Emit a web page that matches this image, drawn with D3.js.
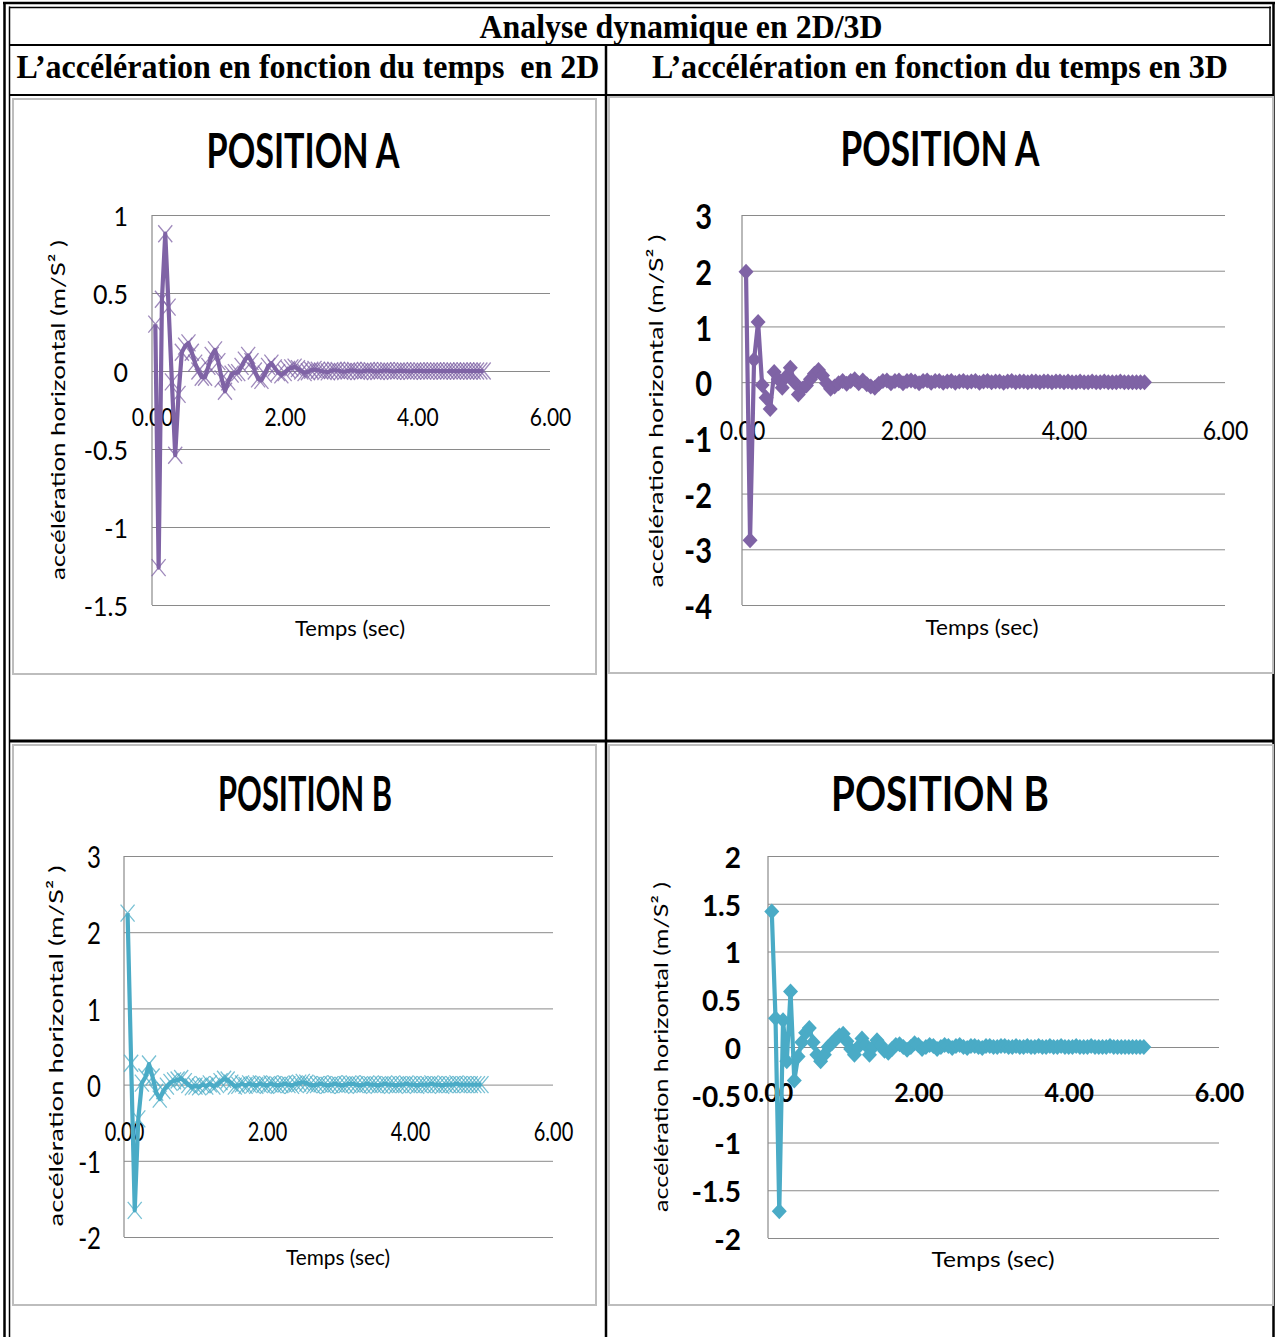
<!DOCTYPE html>
<html>
<head>
<meta charset="utf-8">
<script src="https://cdn.jsdelivr.net/npm/d3@7"></script>
<style>
  body { margin: 0; background: #fff; }
  svg { display: block; }
  text { white-space: pre; }
</style>
</head>
<body>
<script>
// Sampling interval of the recorded acceleration (seconds); sample i is at (i + 1) * timeStep
const timeStep = 0.05;

// Horizontal acceleration (m/s²), position A, 2D model
const posA2D = [
  0.30, -1.26, 0.46, 0.88, 0.41, -0.07, -0.54, -0.15, 0.12, 0.16,
  0.18, 0.12, 0.05, 0.00, -0.04, -0.04, 0.03, 0.10, 0.135, 0.06,
  -0.05, -0.13, -0.07, -0.02, -0.01, -0.01, 0.03, 0.07, 0.10, 0.06,
  0.00, -0.05, -0.06, -0.02, 0.03, 0.05, 0.02, -0.01, -0.025, -0.01,
  0.01, 0.02, 0.025, 0.015, 0.00, -0.01, -0.005, 0.005, 0.01, 0.005,
  0.000, -0.004, -0.006, 0.002, 0.005, 0.003, -0.002, -0.004, 0.000, 0.004,
  0.003, -0.002, -0.003, 0.001, 0.003, 0.002, -0.002, -0.003, 0.000, 0.002,
  0.002, -0.001, -0.002, 0.000, 0.002, 0.001, -0.001, -0.002, 0.000, 0.001,
  0.001, -0.001, -0.001, 0.000, 0.001, 0.001, -0.001, -0.001, 0.000, 0.001,
  0.000, -0.001, 0.000, 0.001, 0.000, -0.001, 0.000, 0.000, 0.000, 0.000
];

// Horizontal acceleration (m/s²), position A, 3D model
const posA3D = [
  1.98, -2.84, 0.40, 1.08, -0.05, -0.28, -0.48, 0.18, 0.05, -0.10,
  0.10, 0.26, 0.00, -0.22, -0.12, -0.06, 0.05, 0.15, 0.22, 0.12,
  -0.02, -0.12, -0.08, -0.02, 0.02, -0.03, 0.02, 0.05, -0.02, 0.03,
  -0.04, -0.08, -0.10, -0.03, 0.02, 0.03, -0.02, 0.02, 0.03, -0.02,
  0.02, 0.03, 0.01, -0.02, 0.02, 0.03, -0.01, 0.02, 0.02, -0.01,
  0.01, 0.02, -0.01, 0.01, 0.02, 0.00, 0.01, 0.02, -0.01, 0.01,
  0.02, 0.00, 0.01, 0.01, -0.01, 0.01, 0.02, 0.00, 0.01, 0.01,
  0.00, 0.01, 0.01, 0.00, 0.01, 0.01, 0.00, 0.01, 0.01, 0.00,
  0.01, 0.00, 0.00, 0.01, 0.00, 0.00, 0.01, 0.00, 0.00, 0.01,
  0.00, 0.00, 0.00, 0.01, 0.00, 0.00, 0.00, 0.00, 0.00, 0.00
];

// Horizontal acceleration (m/s²), position B, 2D model
const posB2D = [
  2.25, 0.28, -1.65, -0.45, 0.02, 0.10, 0.27, 0.10, -0.10, -0.19,
  -0.08, -0.02, 0.03, 0.05, 0.06, 0.08, 0.04, 0.00, -0.03, -0.02,
  -0.03, 0.00, -0.02, 0.01, -0.02, 0.00, 0.04, 0.07, 0.06, 0.02,
  -0.02, -0.01, 0.01, -0.01, 0.01, 0.00, -0.01, 0.01, 0.00, -0.01,
  0.01, 0.00, -0.01, 0.00, 0.01, 0.00, -0.01, 0.01, 0.02, 0.03,
  0.02, 0.00, -0.01, 0.00, 0.01, 0.00, -0.01, 0.00, 0.01, 0.00,
  -0.01, 0.00, 0.01, 0.01, 0.00, -0.01, 0.00, 0.01, 0.00, 0.00,
  -0.01, 0.00, 0.01, 0.00, 0.00, -0.01, 0.00, 0.00, 0.01, 0.00,
  0.00, -0.01, 0.00, 0.00, 0.00, 0.01, 0.00, 0.00, -0.01, 0.00,
  0.00, 0.00, 0.01, 0.00, 0.00, 0.00, 0.00, 0.00, 0.00, 0.00
];

// Horizontal acceleration (m/s²), position B, 3D model
const posB3D = [
  1.42, 0.30, -1.72, 0.28, -0.15, 0.58, -0.35, -0.10, 0.05, 0.15,
  0.20, 0.05, -0.08, -0.15, -0.08, 0.00, 0.04, 0.08, 0.12, 0.14,
  0.06, -0.02, -0.08, 0.00, 0.09, 0.02, -0.08, 0.00, 0.07, 0.02,
  -0.04, -0.06, -0.02, 0.02, 0.03, 0.00, -0.03, 0.00, 0.04, 0.02,
  -0.02, 0.00, 0.02, 0.01, -0.02, 0.00, 0.02, 0.01, -0.01, 0.01,
  0.02, 0.00, -0.01, 0.01, 0.01, 0.00, -0.01, 0.01, 0.01, 0.00,
  0.00, 0.01, 0.01, 0.00, 0.00, 0.01, 0.00, 0.00, 0.01, 0.00,
  0.00, 0.01, 0.00, 0.00, 0.01, 0.00, 0.00, 0.01, 0.00, 0.00,
  0.00, 0.01, 0.00, 0.00, 0.00, 0.01, 0.00, 0.00, 0.00, 0.00,
  0.01, 0.00, 0.00, 0.00, 0.00, 0.00, 0.00, 0.00, 0.00, 0.00
];

// Axis ticks
const xTickValues = [0, 2, 4, 6];
const xTickLabels = ["0.00", "2.00", "4.00", "6.00"];
const yTicksA2D = [-1.5, -1, -0.5, 0, 0.5, 1];
const yTicksA3D = [-4, -3, -2, -1, 0, 1, 2, 3];
const yTicksB2D = [-2, -1, 0, 1, 2, 3];
const yTicksB3D = [-2, -1.5, -1, -0.5, 0, 0.5, 1, 1.5, 2];

// Texts
const tableTitle = "Analyse dynamique en 2D/3D";
const colHeaders = ["L’accélération en fonction du temps  en 2D", "L’accélération en fonction du temps en 3D"];
const chartTitles = ["POSITION A", "POSITION B"];
const yAxisTitle = "accélération horizontal (m/S² )";
const xAxisTitle = "Temps (sec)";

const W = 1275, H = 1337;
const PURPLE = "#7f63a5", AQUA = "#4aabc6";
const SANS = "Lato, 'Open Sans', sans-serif";
const SERIF = "'Liberation Serif', 'DejaVu Serif', serif";

const svg = d3.select("body").append("svg").attr("width", W).attr("height", H);

// ---------- table frame ----------
const frame = svg.append("g").attr("stroke", "#000").attr("fill", "none");
function hline(y, x1, x2, w) { frame.append("line").attr("x1", x1).attr("x2", x2).attr("y1", y).attr("y2", y).attr("stroke-width", w); }
function vline(x, y1, y2, w) { frame.append("line").attr("x1", x).attr("x2", x).attr("y1", y1).attr("y2", y2).attr("stroke-width", w); }
// double outer border
vline(4.5, 2, H, 2.5);
vline(9.5, 6.5, H, 1.5);
hline(3, 3, 1275, 2.5);
hline(7.5, 9, 1271, 1.5);
vline(1273.5, 2, H, 2.5);
vline(1270, 6.5, 45, 1.5);
// row / column rules
hline(45, 9, 1271, 2);
hline(95, 9, 1274, 2);
vline(606, 45, H, 2.5);
hline(741, 9, 1274, 3);

function headerText(x, y, txt, len) {
  svg.append("text").attr("x", x).attr("y", y)
    .attr("text-anchor", "middle")
    .attr("font-family", SERIF).attr("font-weight", 700).attr("font-size", 34)
    .attr("textLength", len).attr("lengthAdjust", "spacingAndGlyphs")
    .text(txt);
}
headerText(681, 38, tableTitle, 403);
headerText(308, 78, colHeaders[0], 583);
headerText(940, 78, colHeaders[1], 576);

// ---------- charts ----------
const charts = [
  { data: posA2D, color: PURPLE, marker: "cross", title: chartTitles[0],
    box: [13, 99, 596, 674], plot: { x0: 152, x1: 550, y0: 215, y1: 605 },
    yDomain: [-1.5, 1], yTicks: yTicksA2D,
    titleCfg: { x: 303, y: 168, w: 193, size: 48 },
    yTitleCfg: { x: 57, y: 410, len: 340, size: 20 },
    xTitleCfg: { x: 350, y: 636, w: 110, size: 22 },
    xLab: { y: 416, size: 21, sy: 1.2, weight: 400 },
    yLab: { right: 128, size: 25, sy: 1.1, weight: 400 } },
  { data: posA3D, color: PURPLE, marker: "diamond", title: chartTitles[0],
    box: [609, 97, 1273, 673], plot: { x0: 742, x1: 1225, y0: 215, y1: 605 },
    yDomain: [-4, 3], yTicks: yTicksA3D,
    titleCfg: { x: 940, y: 166, w: 199, size: 48 },
    yTitleCfg: { x: 655, y: 411, len: 353, size: 20 },
    xTitleCfg: { x: 982, y: 635, w: 113, size: 22 },
    xLab: { y: 430, size: 23, sy: 1.15, weight: 400 },
    yLab: { right: 712, size: 29, sy: 1.2, weight: 700 } },
  { data: posB2D, color: AQUA, marker: "cross", title: chartTitles[1],
    box: [13, 745, 596, 1305], plot: { x0: 124, x1: 553, y0: 856, y1: 1237 },
    yDomain: [-2, 3], yTicks: yTicksB2D,
    titleCfg: { x: 305, y: 811, w: 174, size: 47 },
    yTitleCfg: { x: 55, y: 1046, len: 361, size: 20 },
    xTitleCfg: { x: 338, y: 1265, w: 104, size: 22 },
    xLab: { y: 1131, size: 20, sy: 1.35, weight: 400 },
    yLab: { right: 101, size: 24, sy: 1.3, weight: 400 } },
  { data: posB3D, color: AQUA, marker: "diamond", title: chartTitles[1],
    box: [609, 745, 1273, 1305], plot: { x0: 768, x1: 1219, y0: 856, y1: 1238 },
    yDomain: [-2, 2], yTicks: yTicksB3D,
    titleCfg: { x: 940, y: 811, w: 218, size: 47 },
    yTitleCfg: { x: 660, y: 1047, len: 330, size: 20 },
    xTitleCfg: { x: 993, y: 1267, w: 123, size: 22 },
    xLab: { y: 1092, size: 25, sy: 1.1, weight: 700 },
    yLab: { right: 741, size: 28, sy: 1.05, weight: 700 } }
];

const crossPath = "M-7,-8.5L7,8.5M-7,8.5L7,-8.5";
const diamondPath = "M0,-8L7.5,0L0,8L-7.5,0Z";

function drawChart(c) {
  const g = svg.append("g");
  const [bx0, by0, bx1, by1] = c.box;
  g.append("rect").attr("x", bx0).attr("y", by0)
    .attr("width", bx1 - bx0).attr("height", by1 - by0)
    .attr("fill", "#fff").attr("stroke", "#bdbdbd").attr("stroke-width", 2);

  const x = d3.scaleLinear().domain([0, 6]).range([c.plot.x0, c.plot.x1]);
  const y = d3.scaleLinear().domain(c.yDomain).range([c.plot.y1, c.plot.y0]);

  // horizontal gridlines
  const grid = g.append("g").attr("transform", `translate(${c.plot.x0},0)`)
    .call(d3.axisLeft(y).tickValues(c.yTicks).tickSize(-(c.plot.x1 - c.plot.x0)).tickFormat(""));
  grid.select(".domain").remove();
  grid.selectAll(".tick line").attr("stroke", "#8a8a8a").attr("stroke-width", 1);

  // vertical axis line
  g.append("line").attr("x1", c.plot.x0).attr("x2", c.plot.x0)
    .attr("y1", c.plot.y0).attr("y2", c.plot.y1)
    .attr("stroke", "#8a8a8a").attr("stroke-width", 1.2);

  // y tick labels
  const yAx = g.append("g").attr("transform", `translate(${c.yLab.right},0)`)
    .call(d3.axisLeft(y).tickValues(c.yTicks).tickSize(0).tickPadding(0).tickFormat(d => String(d)));
  yAx.select(".domain").remove();
  yAx.selectAll("text")
    .attr("x", 0).attr("dy", null)
    .attr("dominant-baseline", "central")
    .attr("transform", `scale(1,${c.yLab.sy})`)
    .attr("font-family", SANS).attr("font-size", c.yLab.size).attr("font-weight", c.yLab.weight)
    .attr("fill", "#000");

  // x tick labels, hung below the zero line
  const xAx = g.append("g").attr("transform", `translate(0,${c.xLab.y})`)
    .call(d3.axisBottom(x).tickValues(xTickValues).tickSize(0).tickPadding(0)
      .tickFormat((d, i) => xTickLabels[i]));
  xAx.select(".domain").remove();
  xAx.selectAll("text")
    .attr("y", 0).attr("dy", null)
    .attr("dominant-baseline", "central")
    .attr("transform", `scale(1,${c.xLab.sy})`)
    .attr("font-family", SANS).attr("font-size", c.xLab.size).attr("font-weight", c.xLab.weight)
    .attr("fill", "#000");

  // chart title
  g.append("text").attr("x", c.titleCfg.x).attr("y", c.titleCfg.y)
    .attr("text-anchor", "middle")
    .attr("font-family", SANS).attr("font-weight", 700).attr("font-size", c.titleCfg.size)
    .attr("textLength", c.titleCfg.w).attr("lengthAdjust", "spacingAndGlyphs")
    .text(c.title);

  // axis titles
  g.append("text")
    .attr("transform", `translate(${c.yTitleCfg.x},${c.yTitleCfg.y}) rotate(-90)`)
    .attr("text-anchor", "middle").attr("dominant-baseline", "central")
    .attr("font-family", SANS).attr("font-size", c.yTitleCfg.size)
    .attr("textLength", c.yTitleCfg.len).attr("lengthAdjust", "spacingAndGlyphs")
    .text(yAxisTitle);
  g.append("text").attr("x", c.xTitleCfg.x).attr("y", c.xTitleCfg.y)
    .attr("text-anchor", "middle")
    .attr("font-family", SANS).attr("font-size", c.xTitleCfg.size)
    .attr("textLength", c.xTitleCfg.w).attr("lengthAdjust", "spacingAndGlyphs")
    .text(xAxisTitle);

  // series
  const tx = (d, i) => x((i + 1) * timeStep);
  const line = d3.line().x(tx).y(d => y(d));
  const markers = g.append("g");
  g.append("path").datum(c.data)
    .attr("d", line).attr("fill", "none")
    .attr("stroke", c.color).attr("stroke-width", 4.2).attr("stroke-linejoin", "round");

  if (c.marker === "cross") {
    markers.selectAll("path").data(c.data).join("path")
      .attr("transform", (d, i) => `translate(${tx(d, i)},${y(d)})`)
      .attr("d", crossPath).attr("fill", "none")
      .attr("stroke", c.color).attr("stroke-width", 1.3).attr("stroke-opacity", 0.75);
  } else {
    // diamonds sit on top of the line
    markers.raise();
    markers.selectAll("path").data(c.data).join("path")
      .attr("transform", (d, i) => `translate(${tx(d, i)},${y(d)})`)
      .attr("d", diamondPath).attr("fill", c.color).attr("stroke", "none");
  }
}

charts.forEach(drawChart);
</script>
</body>
</html>
